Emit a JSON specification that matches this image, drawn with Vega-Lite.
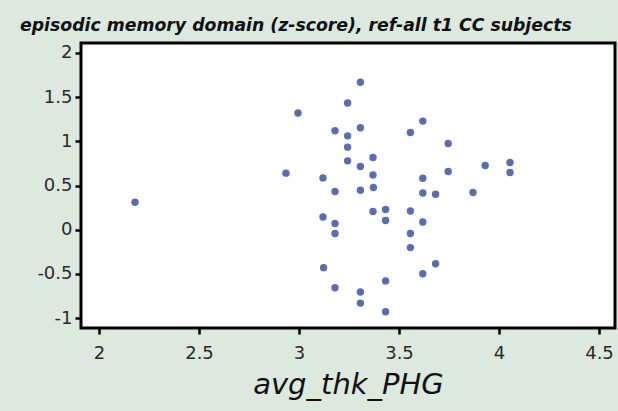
{
  "$schema": "https://vega.github.io/schema/vega-lite/v6.json",
  "width": 534,
  "height": 285,
  "autosize": {"type": "none"},
  "padding": {"left": 81, "top": 43, "right": 3, "bottom": 83},
  "background": "#DDE9DF",
  "title": {
    "text": "episodic memory domain (z-score), ref-all t1 CC subjects",
    "anchor": "start",
    "frame": "group",
    "dx": -61,
    "offset": 9,
    "font": "DejaVu Sans",
    "fontSize": 17.3,
    "fontWeight": "bold",
    "fontStyle": "italic",
    "color": "#111111"
  },
  "config": {
    "view": {"stroke": "#000000", "strokeWidth": 3, "fill": "#FFFFFF"},
    "axis": {
      "grid": false,
      "domain": false,
      "tickColor": "#000000",
      "tickWidth": 2.5,
      "tickSize": 6,
      "labelFont": "DejaVu Sans",
      "labelFontSize": 18,
      "labelColor": "#2A2A2A",
      "labelExpr": "'' + datum.value",
      "titleFont": "DejaVu Sans",
      "titleFontStyle": "italic",
      "titleFontWeight": "normal",
      "titleFontSize": 29,
      "titleColor": "#111111"
    }
  },
  "data": {
    "values": [
      {"avg_thk_PHG": 2.18, "z": 0.31},
      {"avg_thk_PHG": 2.935, "z": 0.64},
      {"avg_thk_PHG": 2.995, "z": 1.32},
      {"avg_thk_PHG": 3.12, "z": 0.586},
      {"avg_thk_PHG": 3.12, "z": 0.144},
      {"avg_thk_PHG": 3.123, "z": -0.43},
      {"avg_thk_PHG": 3.18, "z": 1.12},
      {"avg_thk_PHG": 3.18, "z": 0.432},
      {"avg_thk_PHG": 3.18, "z": 0.069},
      {"avg_thk_PHG": 3.18, "z": -0.044},
      {"avg_thk_PHG": 3.18, "z": -0.657},
      {"avg_thk_PHG": 3.243, "z": 1.433},
      {"avg_thk_PHG": 3.243, "z": 1.062},
      {"avg_thk_PHG": 3.243, "z": 0.934},
      {"avg_thk_PHG": 3.243, "z": 0.779},
      {"avg_thk_PHG": 3.307, "z": 1.668},
      {"avg_thk_PHG": 3.307, "z": 1.153},
      {"avg_thk_PHG": 3.307, "z": 0.715},
      {"avg_thk_PHG": 3.307, "z": 0.447},
      {"avg_thk_PHG": 3.307, "z": -0.706},
      {"avg_thk_PHG": 3.307, "z": -0.831},
      {"avg_thk_PHG": 3.37, "z": 0.817},
      {"avg_thk_PHG": 3.37, "z": 0.62},
      {"avg_thk_PHG": 3.372, "z": 0.477},
      {"avg_thk_PHG": 3.37, "z": 0.205},
      {"avg_thk_PHG": 3.433, "z": 0.228},
      {"avg_thk_PHG": 3.433, "z": 0.103},
      {"avg_thk_PHG": 3.433, "z": -0.58},
      {"avg_thk_PHG": 3.433, "z": -0.929},
      {"avg_thk_PHG": 3.557, "z": 1.1},
      {"avg_thk_PHG": 3.557, "z": 0.212},
      {"avg_thk_PHG": 3.557, "z": -0.044},
      {"avg_thk_PHG": 3.557, "z": -0.203},
      {"avg_thk_PHG": 3.619, "z": 1.229},
      {"avg_thk_PHG": 3.619, "z": 0.583},
      {"avg_thk_PHG": 3.619, "z": 0.416},
      {"avg_thk_PHG": 3.619, "z": 0.087},
      {"avg_thk_PHG": 3.619, "z": -0.498},
      {"avg_thk_PHG": 3.683, "z": 0.401},
      {"avg_thk_PHG": 3.683, "z": -0.385},
      {"avg_thk_PHG": 3.746, "z": 0.976},
      {"avg_thk_PHG": 3.746, "z": 0.659},
      {"avg_thk_PHG": 3.87, "z": 0.42},
      {"avg_thk_PHG": 3.931, "z": 0.727},
      {"avg_thk_PHG": 4.055, "z": 0.761},
      {"avg_thk_PHG": 4.055, "z": 0.647}
    ]
  },
  "mark": {"type": "circle", "size": 55, "color": "#5B6DB0", "opacity": 1},
  "encoding": {
    "x": {
      "field": "avg_thk_PHG",
      "type": "quantitative",
      "title": "avg_thk_PHG",
      "scale": {"domain": [1.91, 4.58], "nice": false, "zero": false},
      "axis": {"values": [2, 2.5, 3, 3.5, 4, 4.5], "labelPadding": 10, "titlePadding": 8, "labelFlush": false}
    },
    "y": {
      "field": "z",
      "type": "quantitative",
      "title": null,
      "scale": {"domain": [-1.113, 2.113], "nice": false, "zero": false},
      "axis": {"values": [-1, -0.5, 0, 0.5, 1, 1.5, 2], "labelPadding": 3, "labelFlush": false}
    }
  }
}
